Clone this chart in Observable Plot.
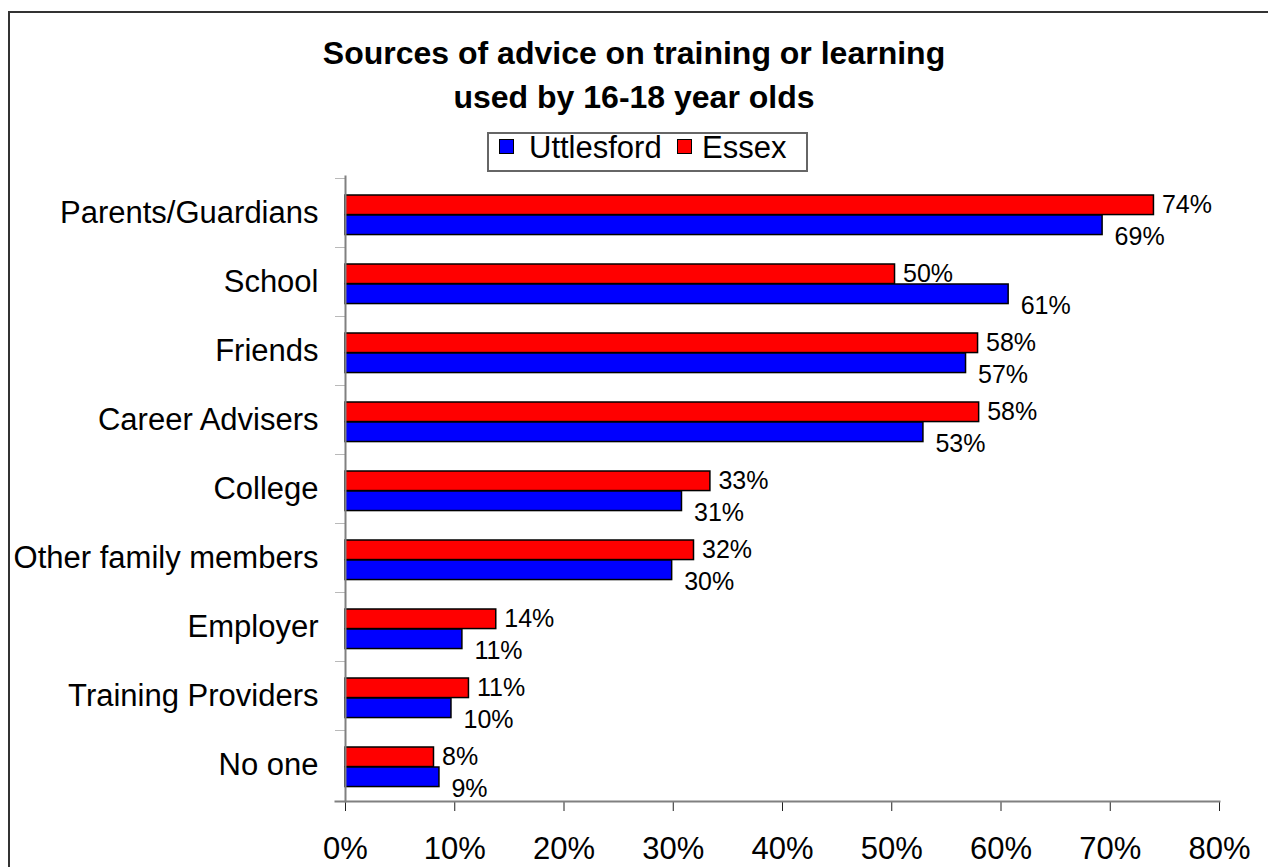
<!DOCTYPE html>
<html>
<head>
<meta charset="utf-8">
<script src="https://cdn.jsdelivr.net/npm/d3@7"></script>
<script src="https://cdn.jsdelivr.net/npm/@observablehq/plot@0.6"></script>
<style>
  html, body { margin: 0; padding: 0; background: #fff; width: 1268px; height: 867px; overflow: hidden;
    font-family: "Liberation Sans", Arial, sans-serif; color: #000; }
  #frame { position: absolute; left: 8px; top: 11px; width: 1300px; height: 900px; border: 2px solid #333; }
  #chart { position: absolute; left: 0; top: 0; }
  #title { position: absolute; left: 0; top: 31px; width: 1268px; text-align: center; font-weight: bold;
    font-size: 32px; line-height: 44px; }
  #legend { position: absolute; left: 487px; top: 132px; width: 321px; height: 40px; box-sizing: border-box;
    border: 2px solid #666; background: #fff; }
  .sw { position: absolute; width: 15px; height: 15px; box-sizing: border-box; border: 1px solid #000; }
  .lt { position: absolute; font-size: 31px; line-height: 40px; white-space: nowrap; }
</style>
</head>
<body>
<div id="frame"></div>
<div id="chart"></div>
<div id="title">Sources of advice on training or learning<br>used by 16-18 year olds</div>
<div id="legend"></div>
<script>
const categories = ["Parents/Guardians", "School", "Friends", "Career Advisers", "College",
  "Other family members", "Employer", "Training Providers", "No one"];
const uttlesford = [69.3, 60.7, 56.8, 52.9, 30.8, 29.9, 10.7, 9.7, 8.6];
const essex = [74.0, 50.3, 57.9, 58.0, 33.4, 31.9, 13.8, 11.3, 8.1];
const xTicks = [0, 10, 20, 30, 40, 50, 60, 70, 80];
const seriesNames = ["Uttlesford", "Essex"];
const seriesColors = ["#0000FF", "#FF0000"];

const W = 1268, H = 867, mL = 345, mR = 49, mT = 176, mB = 66;
const bw = (H - mT - mB) / categories.length;
const barH = 20, gapTop = 17;

const rows = categories.map((c, i) => ({category: c, uttlesford: uttlesford[i], essex: essex[i]}));
const fmt = v => Math.round(v) + "%";

const chart = Plot.plot({
  width: W, height: H,
  marginLeft: mL, marginRight: mR, marginTop: mT, marginBottom: mB,
  style: {fontFamily: "'Liberation Sans', Arial, sans-serif", background: "transparent", color: "#000"},
  x: {domain: [0, 80]},
  y: {domain: categories, padding: 0},
  marks: [
    Plot.barX(categories, {y: d => d, x1: 0, x2: 0, insetLeft: -10, insetBottom: bw - 1, fill: "#808080"}),
    Plot.barX(rows, {y: "category", x1: 0, x2: "essex", fill: seriesColors[1], stroke: "#000", strokeWidth: 1.5,
      insetTop: gapTop, insetBottom: bw - gapTop - barH}),
    Plot.barX(rows, {y: "category", x1: 0, x2: "uttlesford", fill: seriesColors[0], stroke: "#000", strokeWidth: 1.5,
      insetTop: gapTop + barH, insetBottom: bw - gapTop - 2 * barH}),
    Plot.text(rows, {y: "category", x: "essex", text: d => fmt(d.essex), dx: 8,
      dy: gapTop + barH / 2 - bw / 2, textAnchor: "start", fontSize: 25, fill: "#000"}),
    Plot.text(rows, {y: "category", x: "uttlesford", text: d => fmt(d.uttlesford), dx: 12,
      dy: 24, textAnchor: "start", fontSize: 25, fill: "#000"}),
    Plot.axisY({tickSize: 0, tickPadding: 27, fontSize: 31, label: null, fill: "#000"}),
    Plot.axisX({ticks: xTicks, tickFormat: d => d + "%", tickSize: 10, tickPadding: 25, fontSize: 31,
      label: null, stroke: "#222", fill: "#000"}),
    Plot.frame({anchor: "bottom", insetLeft: -10, stroke: "#808080", strokeWidth: 2}),
    Plot.frame({anchor: "left", stroke: "#808080", strokeWidth: 2})
  ]
});
document.getElementById("chart").appendChild(chart);

// legend
const legend = document.getElementById("legend");
const swLeft = [10, 188], txtLeft = [40, 213];
seriesNames.forEach((name, i) => {
  const sw = document.createElement("div");
  sw.className = "sw";
  sw.style.left = swLeft[i] + "px";
  sw.style.top = "5px";
  sw.style.background = seriesColors[i];
  legend.appendChild(sw);
  const t = document.createElement("div");
  t.className = "lt";
  t.style.left = txtLeft[i] + "px";
  t.style.top = "-6px";
  t.textContent = name;
  legend.appendChild(t);
});
</script>
</body>
</html>
